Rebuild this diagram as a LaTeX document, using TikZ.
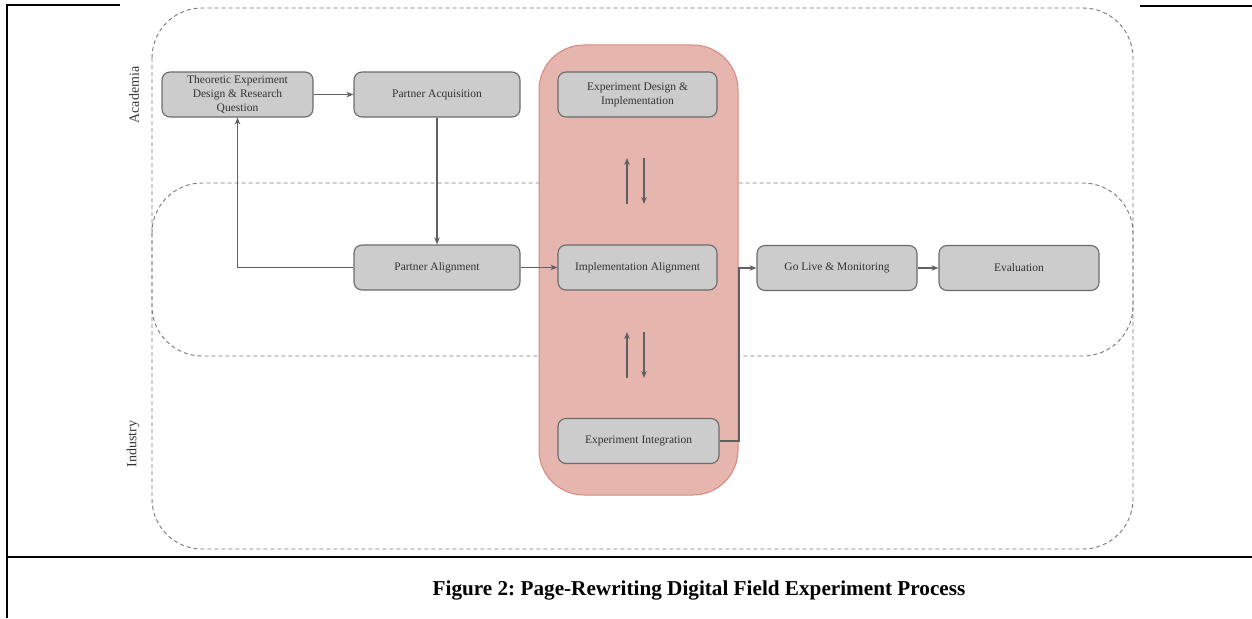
\documentclass[tikz,border=0pt]{standalone}
\usepackage{fontspec}
\setmainfont{Liberation Serif}
\usetikzlibrary{arrows.meta}
\definecolor{boxfill}{HTML}{CCCCCC}
\definecolor{boxline}{HTML}{6B6B6B}
\definecolor{txt}{HTML}{333333}
\definecolor{redfill}{HTML}{E6B5AE}
\definecolor{redline}{HTML}{D98580}
\definecolor{dashc}{HTML}{787878}
\definecolor{arrc}{HTML}{606060}
\begin{document}
\frenchspacing
\begin{tikzpicture}[x=1pt,y=-1pt,
  proc/.style={draw=boxline, fill=boxfill, line width=1.1pt, rounded corners=8pt, minimum height=45pt, inner sep=2pt, align=center, font=\fontsize{11.5}{13.8}\selectfont, text=txt},
  arr/.style={draw=arrc, line width=1.2pt, -{Stealth[length=7pt,width=5.5pt]}},
  lane/.style={draw=dashc, dash pattern=on 4pt off 3pt, line width=0.9pt, rounded corners=50pt},
  frame/.style={line width=2pt, draw=black},
  lbl/.style={rotate=90, font=\fontsize{14}{16}\selectfont, text=txt},
  redbox/.style={draw=redline, fill=redfill, line width=1pt, rounded corners=45pt}
]
\useasboundingbox (0,0) rectangle (1252,618);

% frame
\draw[frame] (7,5.5) -- (120,5.5);
\draw[frame] (1140,6) -- (1252,6);
\draw[frame] (7,4.5) -- (7,618);
\draw[frame] (6,557) -- (1252,557);

% lanes
\draw[lane] (152,8) rectangle (1133,549);
\draw[lane] (152,183) rectangle (1133,356);

% red column
\draw[redbox] (539,45) rectangle (738,495);

% lane labels
\node[lbl] (academia) at (134,95) {Academia};
\node[lbl] (industry) at (133,444) {Industry};

% process boxes
\node[proc, minimum width=151pt] (theo) at (237.5,94.5) {Theoretic Experiment\\Design \& Research\\Question};
\node[proc, minimum width=166pt] (pacq) at (437,94.5) {Partner Acquisition};
\node[proc, minimum width=159pt] (edi) at (637.5,94.5) {Experiment Design \&\\Implementation};
\node[proc, minimum width=166pt] (palign) at (437,267.5) {Partner Alignment};
\node[proc, minimum width=159pt] (ialign) at (637.5,267.5) {Implementation Alignment};
\node[proc, minimum width=160pt] (golive) at (837,268) {Go Live \& Monitoring};
\node[proc, minimum width=160pt] (eval) at (1019,268) {Evaluation};
\node[proc, minimum width=161pt] (eint) at (638.5,441) {Experiment Integration};

% connectors
\draw[arr] (theo.east) -- (pacq.west);
\draw[arr] (pacq.south) -- (palign.north);
\draw[arr] (palign.west) -| (theo.south);
\draw[arr] (palign.east) -- (ialign.west);
\draw[arr] (eint.east) -- ++(19.5,0) |- (golive.west);
\draw[arr] (golive.east) -- (eval.west);

% exchange arrows
\coordinate (a1s) at (627,204);
\coordinate (a1e) at (627,158);
\coordinate (a2s) at (644,158);
\coordinate (a2e) at (644,204);
\coordinate (b1s) at (627,378);
\coordinate (b1e) at (627,332);
\coordinate (b2s) at (644,332);
\coordinate (b2e) at (644,378);
\draw[arr] (a1s) -- (a1e);
\draw[arr] (a2s) -- (a2e);
\draw[arr] (b1s) -- (b1e);
\draw[arr] (b2s) -- (b2e);

% caption
\node[font=\bfseries\fontsize{21.2}{24}\selectfont] (caption) at (699,590) {Figure 2: Page-Rewriting Digital Field Experiment Process};
\end{tikzpicture}
\end{document}
